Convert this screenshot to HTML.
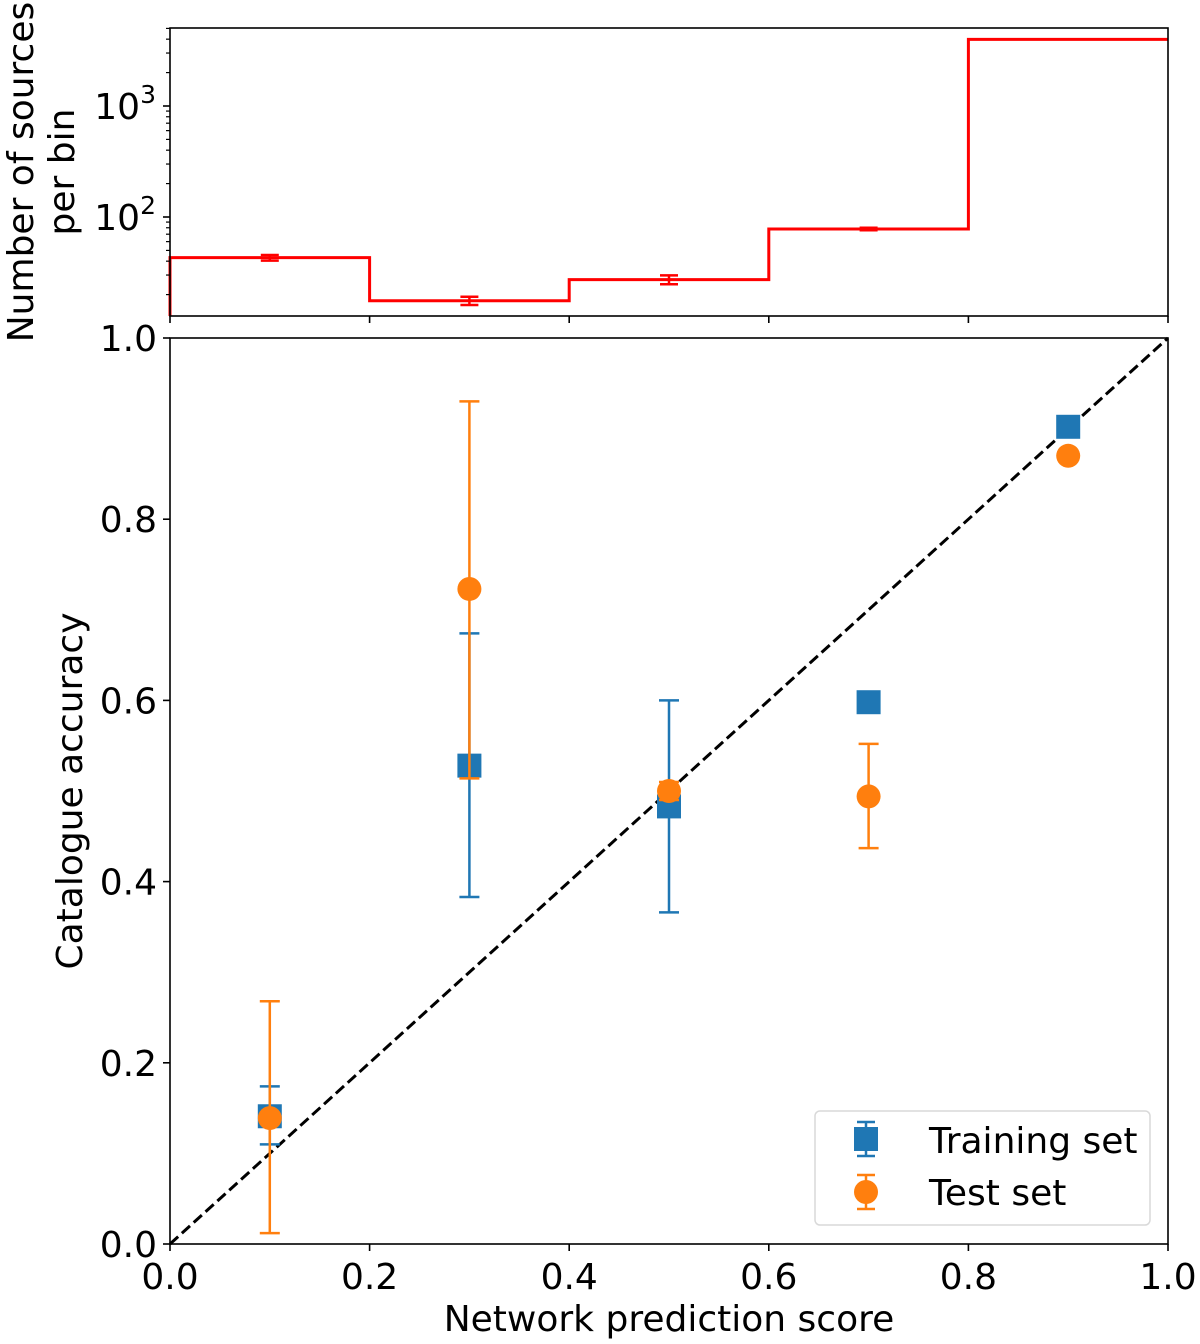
<!DOCTYPE html>
<html><head><meta charset="utf-8">
<style>
body{margin:0;background:#fff;}
svg{display:block;font-family:"DejaVu Sans","Liberation Sans",sans-serif;}
</style></head>
<body>
<svg id="chart" width="1200" height="1344" viewBox="0 0 1200 1344" xmlns="http://www.w3.org/2000/svg"></svg>
<script>
// histogram data
const binEdges = [0, 0.2, 0.4, 0.6, 0.8, 1.0];
const binCounts = [43, 17.6, 27.3, 78, 3980];
const binErrs = [2.5, 1.5, 2.5, 2, 0];
// calibration data
const xCenters = [0.1, 0.3, 0.5, 0.7, 0.9];
const trainY = [0.141, 0.528, 0.483, 0.598, 0.902];
const trainLo = [0.110, 0.383, 0.366, 0.598, 0.902];
const trainHi = [0.174, 0.674, 0.600, 0.598, 0.902];
const testY = [0.139, 0.723, 0.500, 0.494, 0.870];
const testLo = [0.012, 0.514, 0.490, 0.437, 0.870];
const testHi = [0.268, 0.930, 0.510, 0.552, 0.870];
const xTicks = [0, 0.2, 0.4, 0.6, 0.8, 1.0];
const xTickLabels = ["0.0","0.2","0.4","0.6","0.8","1.0"];
const yTicks = [0, 0.2, 0.4, 0.6, 0.8, 1.0];
const yTickLabels = ["0.0","0.2","0.4","0.6","0.8","1.0"];

const svg = document.getElementById('chart');
const NS = 'http://www.w3.org/2000/svg';
function mk(tag, attrs, parent){const e=document.createElementNS(NS,tag);for(const k in attrs)e.setAttribute(k,attrs[k]);(parent||svg).appendChild(e);return e;}

const FS=36;
const X0=170,X1=1168;
const xs = v => X0 + v*(X1-X0);
const MY0=1244, MY1=338;
const ys = v => MY0 - v*(MY0-MY1);
const TY0=316, TY1=28;
const D2=217, DEC=111;
const ly = v => D2 - (Math.log10(v)-2)*DEC;

// top histogram
let d = `M${xs(binEdges[0])},${TY0}`;
binCounts.forEach((c,i)=>{ d += ` L${xs(binEdges[i])},${ly(c)} L${xs(binEdges[i+1])},${ly(c)}`; });
let h = mk('path',{d:d,fill:'none',stroke:'#ff0000','stroke-width':3});


binCounts.forEach((c,i)=>{
  if(!binErrs[i]) return;
  const cx = xs((binEdges[i]+binEdges[i+1])/2);
  const y1=ly(c+binErrs[i]), y2=ly(c-binErrs[i]);
  const g = mk('g',{stroke:'#ff0000','stroke-width':2.5});
  
  
  mk('line',{x1:cx,x2:cx,y1:y1,y2:y2},g);
  mk('line',{x1:cx-9,x2:cx+9,y1:y1,y2:y1},g);
  mk('line',{x1:cx-9,x2:cx+9,y1:y2,y2:y2},g);
});
let tf = mk('rect',{x:X0,y:TY1,width:X1-X0,height:TY0-TY1,fill:'none',stroke:'#000','stroke-width':1.6});


for(let p=1;p<=3;p++){
  for(let m=1;m<10;m++){
    const v=m*Math.pow(10,p); const y=ly(v);
    if(y<TY1||y>TY0) continue;
    const len = m===1?7:4;
    mk('line',{x1:X0-len,x2:X0,y1:y,y2:y,stroke:'#000','stroke-width':m===1?1.6:1.2});
  }
}
[2,3].forEach(p=>{
  const t = mk('text',{x:X0-14,y:ly(Math.pow(10,p))+13,'text-anchor':'end','font-size':FS});
  
  
  t.textContent='10';
  const s = mk('tspan',{dy:-16,'font-size':25},t); s.textContent=String(p);
});
xTicks.forEach(v=>mk('line',{x1:xs(v),x2:xs(v),y1:TY0,y2:TY0+7,stroke:'#000','stroke-width':1.6}));
let tl = mk('text',{transform:'translate(33,172) rotate(-90)','text-anchor':'middle','font-size':FS});


tl.textContent='Number of sources';
let tl2 = mk('text',{transform:'translate(74,172) rotate(-90)','text-anchor':'middle','font-size':FS});


tl2.textContent='per bin';

// main axes
let diag = mk('line',{x1:xs(0),y1:ys(0),x2:xs(1),y2:ys(1),stroke:'#000','stroke-width':3,'stroke-dasharray':'11,5'});



function errbar(x,lo,hi,color,name){
  const g=mk('g',{stroke:color,'stroke-width':2.5});
  
  
  mk('line',{x1:x,x2:x,y1:ys(lo),y2:ys(hi)},g);
  mk('line',{x1:x-10,x2:x+10,y1:ys(lo),y2:ys(lo)},g);
  mk('line',{x1:x-10,x2:x+10,y1:ys(hi),y2:ys(hi)},g);
}
xCenters.forEach((xv,i)=>{
  const x=xs(xv);
  if(trainHi[i]-trainLo[i]>0.001) errbar(x,trainLo[i],trainHi[i],'#1f77b4','training-errorbar');
  const r=mk('rect',{x:x-12,y:ys(trainY[i])-12,width:24,height:24,fill:'#1f77b4'});
  
  
});
xCenters.forEach((xv,i)=>{
  const x=xs(xv);
  if(testHi[i]-testLo[i]>0.001) errbar(x,testLo[i],testHi[i],'#ff7f0e','test-errorbar');
  const c=mk('circle',{cx:x,cy:ys(testY[i]),r:12,fill:'#ff7f0e'});
  
  
});
let mf = mk('rect',{x:X0,y:MY1,width:X1-X0,height:MY0-MY1,fill:'none',stroke:'#000','stroke-width':1.6});


xTicks.forEach((v,i)=>{
  mk('line',{x1:xs(v),x2:xs(v),y1:MY0,y2:MY0+7,stroke:'#000','stroke-width':1.6});
  const t=mk('text',{x:xs(v),y:MY0+45,'text-anchor':'middle','font-size':FS});
  
  
  t.textContent=xTickLabels[i];
});
yTicks.forEach((v,i)=>{
  mk('line',{x1:X0-7,x2:X0,y1:ys(v),y2:ys(v),stroke:'#000','stroke-width':1.6});
  const t=mk('text',{x:X0-13,y:ys(v)+13,'text-anchor':'end','font-size':FS});
  
  
  t.textContent=yTickLabels[i];
});
let xt=mk('text',{x:669,y:1331,'text-anchor':'middle','font-size':FS});


xt.textContent='Network prediction score';
let yt=mk('text',{transform:'translate(82,791) rotate(-90)','text-anchor':'middle','font-size':FS});


yt.textContent='Catalogue accuracy';

// legend
const lg=mk('g',{});


mk('rect',{x:815,y:1111,width:335,height:114,rx:5,fill:'#fff',stroke:'#d9d9d9','stroke-width':1.5},lg);
const l1=mk('g',{},lg);


mk('line',{x1:866,x2:866,y1:1122,y2:1156,stroke:'#1f77b4','stroke-width':2.5},l1);
mk('line',{x1:857,x2:875,y1:1122,y2:1122,stroke:'#1f77b4','stroke-width':2.5},l1);
mk('line',{x1:857,x2:875,y1:1156,y2:1156,stroke:'#1f77b4','stroke-width':2.5},l1);
mk('rect',{x:854,y:1127,width:24,height:24,fill:'#1f77b4'},l1);
const t1=mk('text',{x:929,y:1153,'font-size':FS},l1); t1.textContent='Training set';
const l2=mk('g',{},lg);


mk('line',{x1:866,x2:866,y1:1175,y2:1209,stroke:'#ff7f0e','stroke-width':2.5},l2);
mk('line',{x1:857,x2:875,y1:1175,y2:1175,stroke:'#ff7f0e','stroke-width':2.5},l2);
mk('line',{x1:857,x2:875,y1:1209,y2:1209,stroke:'#ff7f0e','stroke-width':2.5},l2);
mk('circle',{cx:866,cy:1192,r:12,fill:'#ff7f0e'},l2);
const t2=mk('text',{x:929,y:1205,'font-size':FS},l2); t2.textContent='Test set';
</script>
</body></html>
